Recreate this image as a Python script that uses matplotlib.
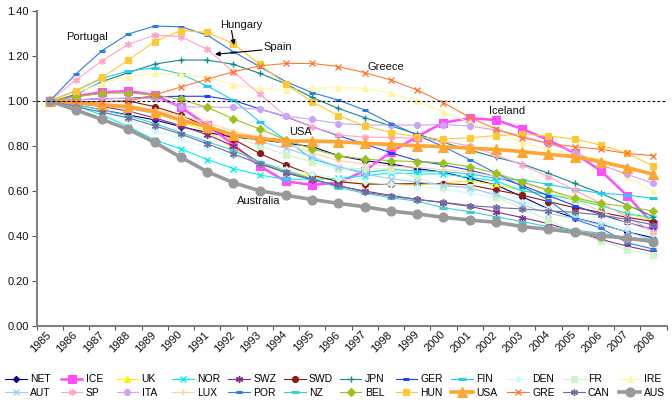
import numpy as np
import matplotlib
matplotlib.use("Agg")
import matplotlib.pyplot as plt

years = [str(y) for y in range(1985, 2009)]

NET = [1.0,0.982,0.96,0.938,0.916,0.886,0.86,0.84,0.828,0.813,0.797,0.757,0.735,0.72,0.70,0.683,0.656,0.627,0.575,0.52,0.48,0.452,0.418,0.392]
ICE = [1.0,1.022,1.039,1.044,1.027,0.972,0.893,0.806,0.71,0.643,0.627,0.637,0.689,0.773,0.842,0.904,0.923,0.916,0.876,0.827,0.767,0.69,0.579,0.452]
UK  = [1.0,0.99,0.98,0.97,0.945,0.91,0.865,0.79,0.723,0.69,0.665,0.645,0.63,0.634,0.627,0.636,0.645,0.627,0.604,0.582,0.567,0.538,0.498,0.47]
NOR = [1.0,0.978,0.938,0.886,0.827,0.787,0.74,0.70,0.671,0.652,0.652,0.656,0.668,0.68,0.676,0.676,0.66,0.645,0.60,0.585,0.56,0.535,0.50,0.48]
SWZ = [1.0,0.99,0.975,0.955,0.925,0.89,0.85,0.80,0.725,0.68,0.65,0.622,0.60,0.58,0.563,0.548,0.532,0.507,0.482,0.455,0.42,0.385,0.355,0.33]
SWD = [1.0,0.997,0.997,1.0,0.975,0.938,0.885,0.83,0.767,0.716,0.671,0.641,0.631,0.631,0.633,0.633,0.627,0.604,0.582,0.553,0.526,0.505,0.483,0.464]
JPN = [1.0,1.03,1.086,1.126,1.164,1.182,1.182,1.163,1.123,1.076,1.016,0.967,0.926,0.889,0.853,0.816,0.782,0.75,0.72,0.679,0.634,0.59,0.538,0.486]
GER = [1.0,1.005,1.01,1.012,1.019,1.021,1.021,1.003,0.965,0.93,0.886,0.846,0.809,0.77,0.735,0.716,0.693,0.664,0.625,0.58,0.535,0.495,0.46,0.43]
FIN = [1.0,1.046,1.101,1.133,1.148,1.12,1.067,1.004,0.908,0.827,0.742,0.708,0.681,0.696,0.69,0.686,0.676,0.656,0.649,0.63,0.607,0.59,0.582,0.567]
DEN = [1.0,0.985,0.955,0.915,0.87,0.83,0.79,0.755,0.725,0.70,0.675,0.655,0.64,0.63,0.62,0.61,0.59,0.57,0.55,0.52,0.49,0.46,0.435,0.41]
FR  = [1.0,0.995,0.985,0.97,0.95,0.92,0.885,0.845,0.80,0.762,0.73,0.70,0.70,0.695,0.66,0.62,0.62,0.575,0.523,0.47,0.42,0.377,0.34,0.316]
IRE = [1.0,1.035,1.08,1.108,1.123,1.119,1.105,1.073,1.056,1.051,1.056,1.06,1.057,1.034,0.998,0.952,0.905,0.862,0.815,0.785,0.765,0.74,0.664,0.60]
AUT = [1.0,0.99,0.98,0.965,0.945,0.915,0.885,0.855,0.82,0.79,0.752,0.708,0.675,0.655,0.64,0.627,0.612,0.585,0.54,0.50,0.479,0.449,0.419,0.382]
SP  = [1.0,1.093,1.179,1.252,1.293,1.286,1.23,1.13,1.031,0.933,0.886,0.849,0.839,0.839,0.834,0.822,0.80,0.76,0.716,0.664,0.604,0.545,0.486,0.419]
ITA = [1.0,1.005,1.01,1.012,1.012,0.975,0.973,0.972,0.963,0.933,0.918,0.90,0.893,0.893,0.893,0.895,0.889,0.871,0.845,0.81,0.775,0.716,0.674,0.634]
LUX = [1.0,0.995,0.99,0.98,0.96,0.935,0.905,0.865,0.84,0.81,0.77,0.735,0.72,0.71,0.705,0.695,0.685,0.665,0.635,0.60,0.56,0.51,0.46,0.42]
POR = [1.0,1.12,1.224,1.298,1.333,1.33,1.293,1.219,1.153,1.086,1.037,1.004,0.96,0.90,0.849,0.797,0.74,0.68,0.62,0.56,0.474,0.435,0.37,0.342]
NZ  = [1.0,0.985,0.96,0.935,0.90,0.86,0.82,0.78,0.73,0.69,0.655,0.615,0.59,0.57,0.555,0.526,0.508,0.486,0.464,0.441,0.427,0.412,0.394,0.385]
BEL = [1.0,1.019,1.034,1.036,1.027,1.007,0.972,0.921,0.876,0.827,0.787,0.757,0.741,0.735,0.73,0.726,0.708,0.679,0.641,0.604,0.57,0.545,0.53,0.511]
HUN = [1.0,1.046,1.105,1.182,1.264,1.313,1.305,1.255,1.163,1.074,0.997,0.935,0.89,0.86,0.841,0.83,0.837,0.846,0.853,0.844,0.831,0.804,0.767,0.711]
USA = [1.0,0.993,0.982,0.975,0.952,0.916,0.886,0.849,0.834,0.822,0.822,0.819,0.812,0.807,0.801,0.797,0.79,0.785,0.775,0.763,0.753,0.73,0.704,0.674]
GRE = [1.0,0.995,0.997,1.0,1.027,1.062,1.097,1.13,1.156,1.167,1.167,1.153,1.126,1.093,1.049,0.993,0.927,0.876,0.837,0.812,0.797,0.785,0.767,0.757]
CAN = [1.0,0.975,0.95,0.925,0.89,0.853,0.81,0.765,0.72,0.683,0.652,0.625,0.595,0.577,0.562,0.55,0.535,0.527,0.52,0.512,0.505,0.493,0.474,0.449]
AUS = [1.0,0.96,0.918,0.874,0.816,0.75,0.686,0.637,0.601,0.581,0.562,0.545,0.530,0.511,0.498,0.483,0.471,0.461,0.442,0.43,0.416,0.401,0.39,0.375]

plt.rcParams['font.family'] = ['Liberation Sans', 'DejaVu Sans']
plt.rcParams['font.size'] = 8

STAR = (6, 2, 0)
# name, values, color, marker, markersize, linewidth, markeredgewidth
styles = [
    ("NET", NET, "#000080", "D", 3.2, 0.8, 0.8),
    ("ICE", ICE, "#FF4DFF", "s", 6.0, 1.8, 0.8),
    ("UK",  UK,  "#FFEE00", "^", 4.5, 0.8, 0.8),
    ("NOR", NOR, "#00F0F0", "x", 4.0, 0.8, 1.0),
    ("SWZ", SWZ, "#8B2B8B", STAR, 5.0, 0.8, 1.0),
    ("SWD", SWD, "#8B1A10", "o", 4.3, 0.8, 0.8),
    ("JPN", JPN, "#138A84", "+", 5.0, 0.8, 1.0),
    ("GER", GER, "#1F3FFF", "_", 4.0, 0.8, 2.2),
    ("FIN", FIN, "#22CCF5", "_", 6.0, 0.8, 2.2),
    ("DEN", DEN, "#CCFAFF", "D", 3.2, 0.8, 0.8),
    ("FR",  FR,  "#CCF5CC", "s", 4.2, 0.8, 0.8),
    ("IRE", IRE, "#FFF7A0", "^", 4.5, 0.8, 0.8),
    ("AUT", AUT, "#A3CCF5", "x", 4.0, 0.8, 1.0),
    ("SP",  SP,  "#FFA3CC", STAR, 5.0, 0.8, 1.0),
    ("ITA", ITA, "#CCA3F5", "o", 4.3, 0.8, 0.8),
    ("LUX", LUX, "#FFD0A3", "+", 5.0, 0.8, 1.0),
    ("POR", POR, "#2B7BF0", "_", 4.0, 0.8, 2.2),
    ("NZ",  NZ,  "#3CCFCF", "_", 6.0, 0.8, 2.2),
    ("BEL", BEL, "#9CC21A", "D", 3.6, 0.8, 0.8),
    ("HUN", HUN, "#FFC830", "s", 4.3, 0.8, 0.8),
    ("USA", USA, "#FFA533", "^", 7.0, 2.6, 0.8),
    ("GRE", GRE, "#FF7A33", "x", 4.0, 0.8, 1.0),
    ("CAN", CAN, "#6E6EA3", STAR, 5.0, 0.8, 1.0),
    ("AUS", AUS, "#999999", "o", 6.5, 2.6, 0.8),
]

W, H = 672, 403
fig = plt.figure(figsize=(W / 100, H / 100), dpi=100)
ax = fig.add_axes([36.5 / W, 1 - 326 / H, 630 / W, 315 / H])
x = np.arange(len(years))

handles = {}
for i, (name, vals, col, mk, ms, lw, mew) in enumerate(styles):
    h, = ax.plot(x, vals, color=col, marker=mk, markersize=ms, linewidth=lw,
                 markerfacecolor=col, markeredgecolor=col, markeredgewidth=mew,
                 label=name, zorder=2 + i * 0.01, clip_on=False)
    handles[name] = h

ax.axhline(1.0, color="black", linewidth=0.8, linestyle=(0, (2.5, 2)), zorder=5)

ax.set_xlim(-0.5, len(years) - 0.5)
ax.set_ylim(0, 1.4)
for s in ["top", "right"]:
    ax.spines[s].set_visible(False)
for s in ["left", "bottom"]:
    ax.spines[s].set_color("#808080")
    ax.spines[s].set_linewidth(1.5)

ax.set_yticks(np.arange(0, 1.41, 0.2))
ax.set_yticklabels([f"{v:.2f}" for v in np.arange(0, 1.41, 0.2)])
ax.tick_params(axis="y", direction="out", length=3.6, width=0.8, color="#555555",
               pad=2, labelsize=8, labelcolor="#111111")

ax.set_xticks(np.arange(-0.5, len(years), 1.0))
ax.set_xticklabels([])
ax.tick_params(axis="x", which="major", direction="out", length=3.2, width=0.8, color="#555555")
ax.set_xticks(x, minor=True)
ax.set_xticklabels(years, minor=True, rotation=45, ha="right", va="center",
                   rotation_mode="anchor")
ax.tick_params(axis="x", which="minor", length=0, pad=5, labelsize=8, labelcolor="#111111")

def px(xp, yp):
    return ((xp - 49.6) / 26.25, (326 - yp) / 225)

txt = dict(fontsize=8, color="#111111", ha="center", va="center")
ax.text(*px(86.5, 37), "Portugal", **txt)
ax.text(*px(385.5, 67.3), "Greece", **txt)
ax.text(*px(507, 111), "Iceland", **txt)
ax.text(*px(300.5, 132), "USA", **txt)
ax.text(*px(259, 201), "Australia", **txt)
ax.text(*px(241, 25), "Hungary", **txt)
ax.text(*px(278, 47.3), "Spain", **txt)
arr = dict(arrowstyle="-|>", color="black", lw=0.8, mutation_scale=7, shrinkA=0, shrinkB=0)
ax.annotate("", xy=px(234, 45), xytext=px(231.5, 30.5), arrowprops=arr, zorder=6)
ax.annotate("", xy=px(215, 54.3), xytext=px(262, 50), arrowprops=arr, zorder=6)

row1 = ["NET", "ICE", "UK", "NOR", "SWZ", "SWD", "JPN", "GER", "FIN", "DEN", "FR", "IRE"]
row2 = ["AUT", "SP", "ITA", "LUX", "POR", "NZ", "BEL", "HUN", "USA", "GRE", "CAN", "AUS"]
for c in range(12):
    x0 = 5 + 55.8 * c
    fig.legend(handles=[handles[row1[c]], handles[row2[c]]],
               labels=[row1[c], row2[c]],
               loc="upper left", bbox_to_anchor=(x0 / W, 1 - 374.5 / H),
               frameon=False, borderpad=0, borderaxespad=0, handlelength=2.08,
               handletextpad=0.32, labelspacing=0.32, fontsize=7.5, numpoints=1)

fig.savefig("out.png", dpi=100, facecolor="white")
